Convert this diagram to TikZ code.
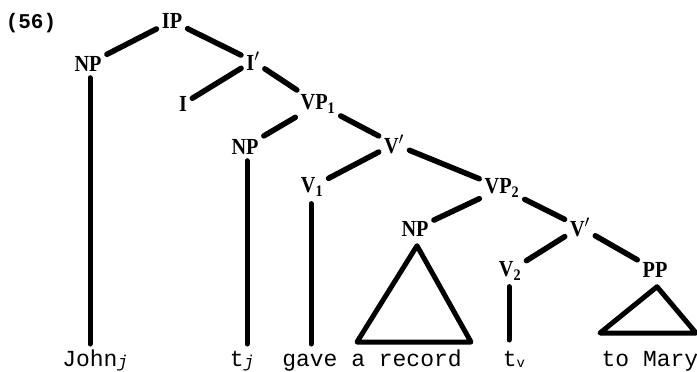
\documentclass[tikz,border=0pt]{standalone}
\usepackage{fontspec}
\setmainfont{Liberation Serif}
\newfontfamily\labfont[FakeStretch=0.88]{Liberation Serif}
\newfontfamily\typfont{Liberation Mono}
\usetikzlibrary{calc}
\begin{document}
\begin{tikzpicture}[x=1pt,y=-1pt,
  lab/.style={font=\labfont\bfseries\fontsize{23}{25}\selectfont, inner sep=3pt},
  num/.style={font=\typfont\bfseries\fontsize{21}{23}\selectfont, inner sep=0pt},
  word/.style={font=\typfont\fontsize{23}{25}\selectfont, inner sep=0pt, anchor=base},
  br/.style={line width=5.5pt, line cap=round, shorten <=2.5pt, shorten >=2.5pt},
  vr/.style={line width=5pt, line cap=round},
  tri/.style={line width=5pt, line join=round}]
\useasboundingbox (0,0) rectangle (697,372);
\fill[white] (0,0) rectangle (697,372);
% labels
\node[num] (ex) at (31,23) {(56)};
\node[lab] (IP) at (172,21) {IP};
\node[lab] (NPa) at (88,64) {NP};
\node[lab] (Ib) at (253,61) {I$'$};
\node[lab] (I) at (183,104) {I};
\node[lab] (VPa) at (318,104) {VP\textsubscript{1}};
\node[lab] (NPb) at (245,147) {NP};
\node[lab] (Vba) at (394,144) {V$'$};
\node[lab] (Va) at (312,187) {V\textsubscript{1}};
\node[lab] (VPb) at (502,188) {VP\textsubscript{2}};
\node[lab] (NPc) at (415,229) {NP};
\node[lab] (Vbb) at (580,227) {V$'$};
\node[lab] (Vb) at (510,271) {V\textsubscript{2}};
\node[lab] (PP) at (655,270) {PP};
% words
\node[word] (john) at (95,366) {John\raisebox{-1pt}{\fontsize{17}{19}\selectfont\itshape j}};
\node[word] (tj) at (242,366) {t\raisebox{-1pt}{\fontsize{17}{19}\selectfont\itshape j}};
\node[word] (gave) at (372,366) {gave a record};
\node[word] (tv) at (514,366) {t\raisebox{-1pt}{\fontsize{14}{16}\selectfont v}};
\node[word] (mary) at (650,366) {to Mary};
% branches
\draw[br] (IP) -- (NPa);
\draw[br] (IP) -- (Ib);
\draw[br] (Ib) -- (I);
\draw[br] (Ib) -- (VPa);
\draw[br] (VPa) -- (NPb);
\draw[br] (VPa) -- (Vba);
\draw[br] (Vba) -- (Va);
\draw[br] (Vba) -- (VPb);
\draw[br] (VPb) -- (NPc);
\draw[br] (VPb) -- (Vbb);
\draw[br] (Vbb) -- (Vb);
\draw[br] (Vbb) -- (PP);
% vertical lines
\coordinate (lowa) at (0,344);
\coordinate (lowb) at (0,340);
\draw[vr] ($(NPa.south)+(2,3)$) -- ($(NPa.south |- lowa)+(2,0)$);
\draw[vr] ($(NPb.south)+(2,3)$) -- ($(NPb.south |- lowa)+(2,0)$);
\draw[vr] ($(Va.south)+(-1,4)$) -- ($(Va.south |- lowa)+(-1,0)$);
\draw[vr] ($(Vb.south)+(-1,3)$) -- ($(Vb.south |- lowb)+(-1,0)$);
% triangles
\coordinate (ta) at ($(NPc.south)+(2,6)$);
\coordinate (tb) at (357,342);
\coordinate (tc) at (471,342);
\draw[tri] (ta) -- (tc) -- (tb) -- cycle;
\coordinate (pa) at ($(PP.south)+(2,6)$);
\coordinate (pb) at (600,333);
\coordinate (pc) at (696,333);
\draw[tri] (pa) -- (pc) -- (pb) -- cycle;
\end{tikzpicture}
\end{document}
